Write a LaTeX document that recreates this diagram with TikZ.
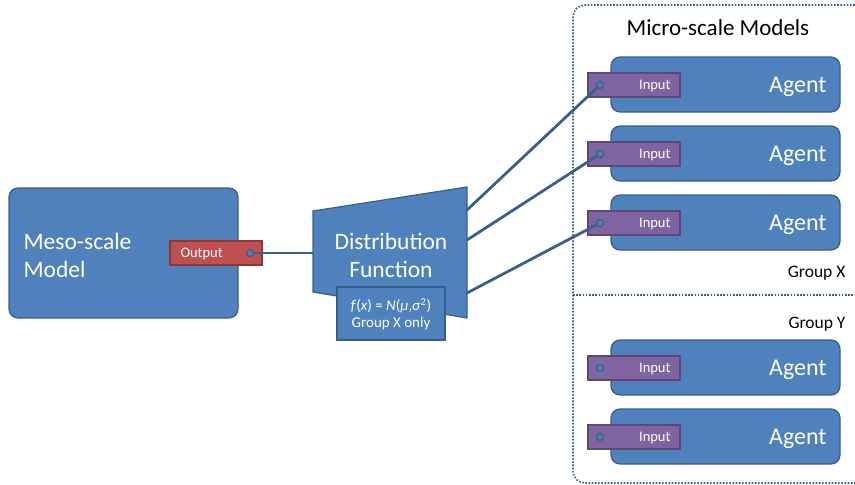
\documentclass[tikz,border=0pt]{standalone}
\usepackage{fontspec}
\setmainfont{Carlito}
\usetikzlibrary{calc}
\definecolor{bfill}{HTML}{4F81BD}
\definecolor{bdraw}{HTML}{385D8A}
\definecolor{rfill}{HTML}{C0504D}
\definecolor{rdraw}{HTML}{8C3836}
\definecolor{pfill}{HTML}{8064A2}
\definecolor{pdraw}{HTML}{5C4776}
\definecolor{lcol}{HTML}{3A5F8E}
\tikzset{
  bluebox/.style={fill=bfill, draw=bdraw, line width=1.2pt, rounded corners=9pt},
  portbox/.style={line width=1.2pt},
  inbox/.style={portbox, fill=pfill, draw=pdraw},
  outbox/.style={portbox, fill=rfill, draw=rdraw},
  porttext/.style={text=white, font=\fontsize{14.5}{14.5}\selectfont},
  dot/.style={circle, fill=bfill, draw=bdraw, line width=1.2pt, inner sep=0pt, minimum size=7pt},
  conn/.style={draw=lcol, line width=2.8pt},
  wtext/.style={text=white, align=left},
  dotted line/.style={draw=bdraw, line width=1.6pt, dash pattern=on 1.6pt off 1.6pt},
  grouptext/.style={font=\fontsize{17.5}{17.5}\selectfont, anchor=east},
}
\begin{document}
\begin{tikzpicture}[x=1pt,y=-1pt]
\useasboundingbox (0,0) rectangle (855,485);
% container
\draw[dotted line, rounded corners=12pt] (858,5) -- (573,5) -- (573,483) -- (858,483);
\draw[dotted line] (573,295) -- (858,295);
\node[font=\fontsize{23}{23}\selectfont, anchor=center] (title) at (718,28) {Micro-scale Models};
\node[grouptext] (gx) at (849,273) {Group X};
\node[grouptext] (gy) at (849,324) {Group Y};

% meso
\draw[bluebox] (9,188) rectangle (238,318);
\node[wtext, anchor=west, font=\fontsize{23.5}{28}\selectfont] (meso) at (20,255) {Meso-scale\\Model};
\draw[outbox] (170,241) rectangle (262,265);
\node[porttext, anchor=west] (outt) at (177,254) {Output};
\node[dot] (od) at (250,253) {};

% distribution
\draw[fill=bfill, draw=bdraw, line width=1.2pt] (313,211) -- (467,187) -- (467,318) -- (313,292) -- cycle;
\node[wtext, align=center, font=\fontsize{23.5}{28}\selectfont] (dist) at (391,255) {Distribution\\Function};
\draw[fill=bfill, draw=bdraw, line width=1.2pt] (337,287) rectangle (445,340);
\node[text=white, align=center, font=\fontsize{15}{17}\selectfont] (form) at (391,314) {\textit{f}(\textit{x}) = \textit{N}(\textit{μ},\textit{σ}$^{\mathrm{2}}$)\\Group X only};
\coordinate (d1) at (467,210);
\coordinate (d2) at (467,240);
\coordinate (d3) at (467,293);
\draw[conn] (od) -- (313,253);

% agents
\foreach \i/\y in {1/57,2/126,3/195,4/340,5/409}{
  \draw[bluebox] (611,\y) rectangle (840,\y+55);
  \node[text=white, font=\fontsize{24}{24}\selectfont, anchor=east] (ag\i) at (830,\y+30) {Agent};
  \draw[inbox] (588,\y+16) rectangle (680,\y+40);
  \node[porttext, anchor=east] (in\i) at (674,\y+29) {Input};
  \node[dot] (id\i) at (600,\y+28) {};
}
\draw[conn] (d1) -- (id1);
\draw[conn] (d2) -- (id2);
\draw[conn] (d3) -- (id3);
\end{tikzpicture}
\end{document}
